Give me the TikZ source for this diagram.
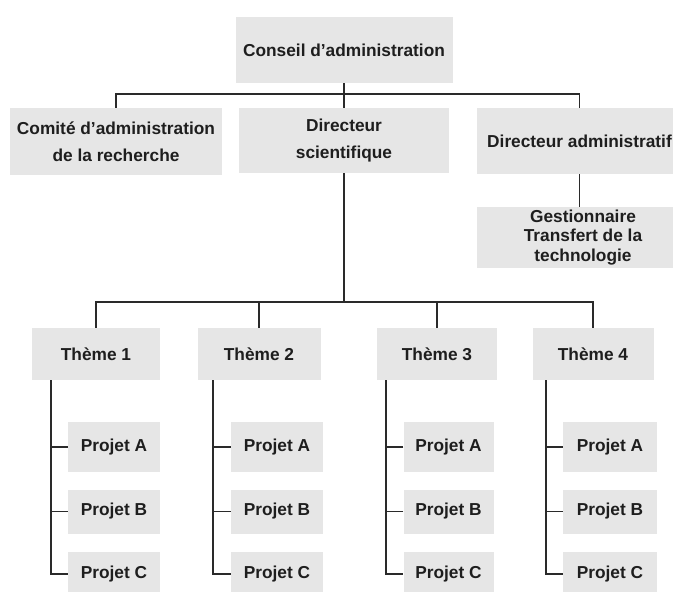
\documentclass[tikz,border=0pt]{standalone}
\usepackage{fontspec}
\setmainfont{Liberation Sans}
\usetikzlibrary{calc}
\definecolor{boxgray}{HTML}{E6E6E6}
\definecolor{linegray}{HTML}{2A2A2A}
\definecolor{textblack}{HTML}{1E1E1E}
\tikzset{
  box/.style={fill=boxgray, inner sep=0pt, align=center, text=textblack,
    font=\bfseries\fontsize{17.3bp}{20bp}\selectfont},
  boxwide/.style={box, font=\bfseries\fontsize{17.3bp}{27bp}\selectfont},
  boxtight/.style={box, font=\bfseries\fontsize{17.3bp}{19.5bp}\selectfont},
  link/.style={draw=linegray, line width=1.2bp},
}
\begin{document}
\begin{tikzpicture}[x=1bp,y=-1bp]
\useasboundingbox (0,0) rectangle (673,592);

% top level
\node[box, minimum width=217bp, minimum height=66bp] (conseil) at (344,50) {Conseil d'administration};
\node[boxwide, minimum width=212bp, minimum height=67bp] (comite) at (116,141.5) {Comité d'administration\\de la recherche};
\node[boxwide, minimum width=210bp, minimum height=65bp] (dirsci) at (344,140.5) {Directeur\\scientifique};
\node[box, minimum width=205bp, minimum height=66bp] (diradm) at (579.5,141) {Directeur administratif};
\node[boxtight, minimum width=212bp, minimum height=61bp] (gest) at (583,237.5) {Gestionnaire\\Transfert de la\\technologie};

\coordinate (b1) at (0,94);
\coordinate (b2) at (0,302);

\draw[link] (conseil.south) -- (conseil.south |- b1);
\draw[link] (comite.north) -- (comite.north |- b1) -- (diradm.north |- b1) -- (diradm.north);
\draw[link] (dirsci.north |- b1) -- (dirsci.north);
\draw[link] (diradm.south) -- (diradm.south |- gest.north);

% themes
\node[box, minimum width=128bp, minimum height=52bp] (t1) at (96,354) {Thème 1};
\node[box, minimum width=123bp, minimum height=52bp] (t2) at (259,354) {Thème 2};
\node[box, minimum width=120bp, minimum height=52bp] (t3) at (437,354) {Thème 3};
\node[box, minimum width=121bp, minimum height=52bp] (t4) at (593,354) {Thème 4};

\draw[link] (dirsci.south) -- (dirsci.south |- b2);
\draw[link] (t1.north) -- (t1.north |- b2) -- (t4.north |- b2) -- (t4.north);
\draw[link] (t2.north |- b2) -- (t2.north);
\draw[link] (t3.north |- b2) -- (t3.north);

% projects
\foreach \i/\x/\w/\v in {1/114/92/51, 2/277/92/213, 3/448.5/90/386, 4/610/94/546} {
  \coordinate (v\i) at (\v,0);
  \node[box, minimum width=\w bp, minimum height=50bp] (p\i a) at (\x,447) {Projet A};
  \node[box, minimum width=\w bp, minimum height=44bp] (p\i b) at (\x,511.5) {Projet B};
  \node[box, minimum width=\w bp, minimum height=44bp] (p\i c) at (\x,574) {Projet C};
  \draw[link] (t\i.south -| v\i) |- (p\i c.west);
  \draw[link] (p\i a.west) -- (p\i a.west -| v\i);
  \draw[link] (p\i b.west) -- (p\i b.west -| v\i);
}
\end{tikzpicture}
\end{document}
